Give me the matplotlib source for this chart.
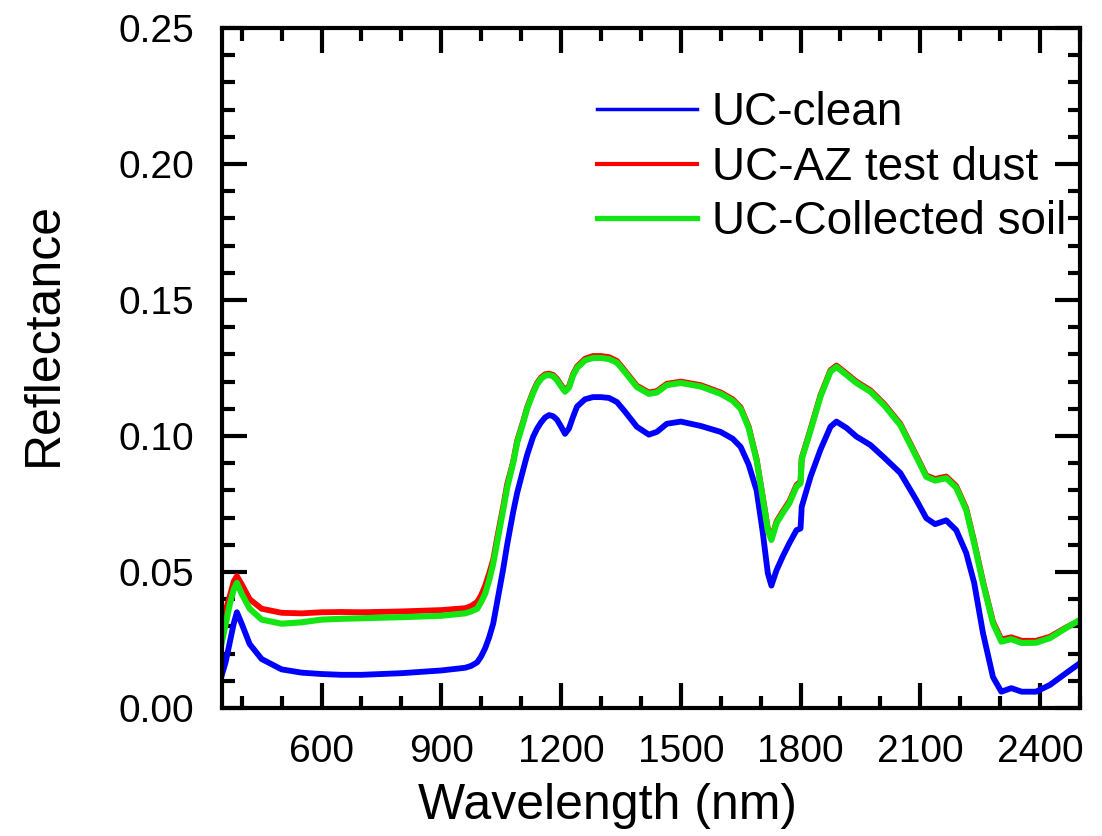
import matplotlib
matplotlib.use("Agg")
import matplotlib.pyplot as plt
from matplotlib.lines import Line2D

plt.rcParams['font.family'] = ['Liberation Sans', 'DejaVu Sans']

wavelength = [350, 360, 370, 380, 388, 400, 420, 450, 500, 550, 600, 650, 700, 800, 900,
              960, 975, 990, 1000, 1010, 1020, 1030, 1040, 1055, 1065, 1080, 1090, 1105, 1115,
              1130, 1140, 1150, 1160, 1170, 1180, 1190, 1200, 1210, 1220, 1230, 1240,
              1260, 1280, 1300, 1320, 1340, 1360, 1390, 1420, 1440, 1465, 1500, 1550,
              1600, 1630, 1650, 1670, 1690, 1705, 1718, 1727, 1740, 1755, 1772, 1790, 1800,
              1803, 1825, 1850, 1875, 1890, 1915, 1940, 1975, 2010, 2050, 2090, 2115, 2137,
              2165, 2190, 2215, 2235, 2257, 2282, 2303, 2328, 2354, 2390, 2425, 2465, 2500]

uc_clean = [0.012, 0.017, 0.024, 0.031, 0.0352, 0.031, 0.0235, 0.018, 0.0142, 0.013, 0.0125,
            0.0122, 0.0122, 0.0128, 0.0138,
            0.0148, 0.0155, 0.0168, 0.019, 0.022, 0.026, 0.031, 0.039, 0.051, 0.060, 0.072,
            0.079, 0.0875, 0.093, 0.0997, 0.1027, 0.105, 0.1068, 0.1077, 0.1073, 0.106, 0.1035,
            0.1008, 0.1028, 0.107, 0.1108,
            0.1135, 0.1143, 0.1143, 0.114, 0.1125, 0.109, 0.1034, 0.1005, 0.1015, 0.1045,
            0.1053, 0.1037, 0.1015, 0.099, 0.096, 0.0895, 0.080, 0.065, 0.0496, 0.045, 0.0507,
            0.0556, 0.0606, 0.0654, 0.066, 0.074, 0.085, 0.095, 0.1034, 0.1053, 0.103, 0.0998,
            0.0967, 0.092, 0.0864, 0.0765, 0.0698, 0.0676, 0.069, 0.0654, 0.057, 0.046, 0.0276,
            0.0114, 0.006, 0.0073, 0.006, 0.006, 0.0085, 0.0128, 0.0165]

uc_az_dust = [0.031, 0.036, 0.041, 0.0465, 0.0485, 0.0455, 0.040, 0.0365, 0.035, 0.0348, 0.0352,
              0.0353, 0.0352, 0.0355, 0.036,
              0.0367, 0.0375, 0.039, 0.0415, 0.045, 0.0495, 0.0545, 0.0625, 0.074, 0.0822,
              0.0905, 0.0982, 0.1053, 0.1105, 0.1163, 0.1195, 0.1215, 0.1227, 0.1229, 0.1225,
              0.121, 0.1188, 0.1168, 0.1183, 0.1227, 0.1255,
              0.1284, 0.1294, 0.1294, 0.129, 0.1276, 0.124, 0.1185, 0.116, 0.1165, 0.1192,
              0.12, 0.1187, 0.116, 0.1135, 0.1105, 0.1035, 0.0915, 0.078, 0.066, 0.0623, 0.0686,
              0.0722, 0.076, 0.082, 0.0832, 0.092, 0.1025, 0.115, 0.1242, 0.1259, 0.123, 0.12,
              0.1168, 0.1117, 0.1045, 0.0929, 0.0855, 0.0842, 0.0851, 0.0816, 0.0734, 0.0612,
              0.0466, 0.0318, 0.0252, 0.026, 0.0247, 0.0247, 0.0262, 0.0296, 0.0322]

uc_soil = [0.024, 0.031, 0.038, 0.0435, 0.046, 0.042, 0.0365, 0.0325, 0.031, 0.0315, 0.0325,
           0.0328, 0.033, 0.0334, 0.0339,
           0.0348, 0.0355, 0.0365, 0.039, 0.042, 0.047, 0.053, 0.061, 0.0728, 0.081, 0.090,
           0.0975, 0.1048, 0.110, 0.1158, 0.119, 0.121, 0.1222, 0.1224, 0.1220, 0.1205, 0.1183,
           0.1163, 0.1178, 0.1222, 0.125,
           0.1278, 0.1287, 0.1287, 0.1283, 0.127, 0.1235, 0.118, 0.1155, 0.116, 0.1187,
           0.1195, 0.1182, 0.1155, 0.113, 0.110, 0.103, 0.091, 0.0775, 0.0654, 0.0618, 0.068,
           0.0716, 0.0753, 0.0814, 0.0826, 0.0915, 0.102, 0.1145, 0.1237, 0.1254, 0.1225,
           0.1195, 0.1163, 0.1112, 0.104, 0.0924, 0.085, 0.0836, 0.0845, 0.081, 0.0728, 0.0606,
           0.046, 0.0312, 0.0244, 0.0253, 0.0239, 0.024, 0.0257, 0.0294, 0.0324]

labels = ['UC-clean', 'UC-AZ test dust', 'UC-Collected soil']
colors = ['#0000ff', '#ff0000', '#14e614']

fig = plt.figure(figsize=(11.02, 8.36), dpi=100)
ax = fig.add_axes([0.2012, 0.1531, 0.7788, 0.8134])

ax.plot(wavelength, uc_clean, color=colors[0], lw=4.2, solid_joinstyle='round')
ax.plot(wavelength, uc_az_dust, color=colors[1], lw=4.2, solid_joinstyle='round')
ax.plot(wavelength, uc_soil, color=colors[2], lw=4.4, solid_joinstyle='round')

ax.set_xlim(350, 2500)
ax.set_ylim(0, 0.25)
ax.set_xticks([600, 900, 1200, 1500, 1800, 2100, 2400])
ax.set_xticks(list(range(400, 2501, 100)), minor=True)
ax.set_yticks([0.00, 0.05, 0.10, 0.15, 0.20, 0.25])
ax.set_yticks([i / 100 for i in range(0, 26)], minor=True)
ax.set_yticklabels(['0.00', '0.05', '0.10', '0.15', '0.20', '0.25'])

for s in ax.spines.values():
    s.set_linewidth(3.0)

ax.tick_params(which='both', direction='in', top=True, right=True, width=3.0,
               labelsize=28, color='black')
ax.tick_params(which='major', length=18)
ax.tick_params(which='minor', length=9)
ax.tick_params(axis='y', which='major', pad=20)
ax.tick_params(axis='x', which='major', pad=19)

ax.set_xlabel('Wavelength (nm)', fontsize=36)
ax.set_ylabel('Reflectance', fontsize=36)
ax.xaxis.set_label_coords(0.449, -0.11)
ax.yaxis.set_label_coords(-0.18, 0.55)

handles = [Line2D([], [], color=colors[0], lw=2.5),
           Line2D([], [], color=colors[1], lw=3.0),
           Line2D([], [], color=colors[2], lw=3.8)]
ax.legend(handles, labels, loc='upper left', bbox_to_anchor=(0.4373, 0.9076), frameon=False,
          fontsize=33, handlelength=2.18, handletextpad=0.32, labelspacing=0.236,
          borderaxespad=0.0, borderpad=0.0)

fig.savefig('out.png', dpi=100)
